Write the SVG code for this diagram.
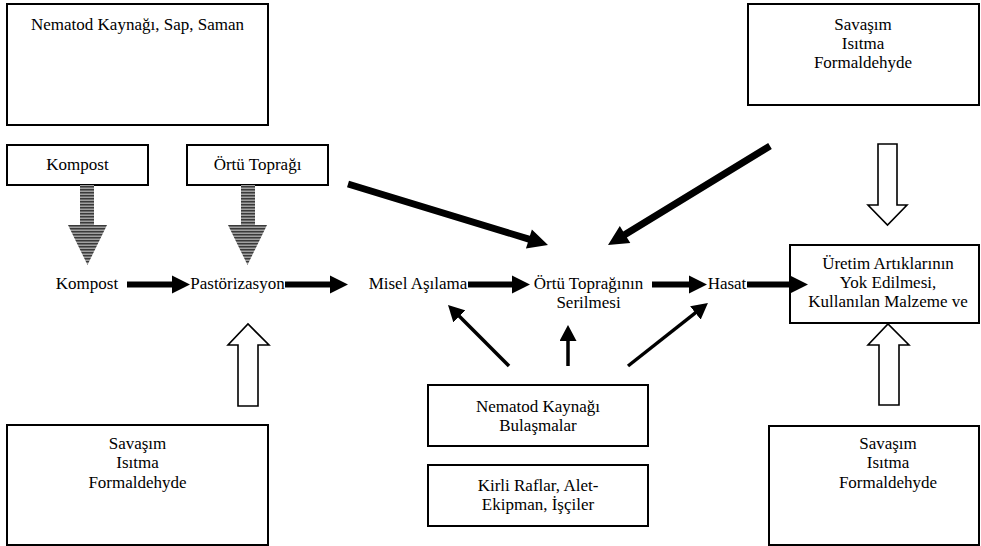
<svg xmlns="http://www.w3.org/2000/svg" width="981" height="546" viewBox="0 0 981 546">
<style>
text{font-family:"Liberation Serif","Times New Roman",serif;font-size:17px;fill:#000;text-anchor:middle}
.box{fill:#fff;stroke:#000;stroke-width:2}
.hollow{fill:#fff;stroke:#000;stroke-width:1.6;stroke-linejoin:miter}
.block{fill:#000}
.thin{stroke:#000;stroke-width:3.5;fill:none}
.striped{fill:url(#stripes)}
</style>
<defs>
<pattern id="stripes" patternUnits="userSpaceOnUse" width="4" height="3">
<rect x="0" y="0" width="4" height="3" fill="#a0a0a0"/>
<rect x="0" y="0" width="4" height="1.5" fill="#3a3a3a"/>
</pattern>
<marker id="head" markerUnits="userSpaceOnUse" markerWidth="16" markerHeight="17" refX="6" refY="8.5" orient="auto">
<path d="M0,0 L16,8.5 L0,17 z" fill="#000"/>
</marker>
</defs>
<rect width="981" height="546" fill="#fff"/>

<g id="n-nematod-sap-saman">
<rect class="box" x="7" y="4" width="261" height="121"/>
<text x="137.5" y="30">Nematod Kaynağı, Sap, Saman</text>
</g>
<g id="n-kompost-kaynak">
<rect class="box" x="7" y="145" width="141" height="40"/>
<text x="77.5" y="170">Kompost</text>
</g>
<g id="n-ortu-topragi-kaynak">
<rect class="box" x="187" y="145" width="141" height="40"/>
<text x="257.5" y="170">Örtü Toprağı</text>
</g>
<g id="n-savasim-top">
<rect class="box" x="748" y="4" width="231" height="101"/>
<text x="863" y="30">Savaşım</text>
<text x="863" y="49">Isıtma</text>
<text x="863" y="68">Formaldehyde</text>
</g>
<g id="n-kompost">
<text x="87" y="289">Kompost</text>
</g>
<g id="n-pastorizasyon">
<text x="237.5" y="289">Pastörizasyon</text>
</g>
<g id="n-misel">
<text x="418" y="289">Misel Aşılama</text>
</g>
<g id="n-ortu-serilmesi">
<text x="588.5" y="289">Örtü Toprağının</text>
<text x="588.5" y="308">Serilmesi</text>
</g>
<g id="n-hasat">
<text x="727" y="289">Hasat</text>
</g>
<g id="n-uretim">
<rect class="box" x="790" y="245" width="189" height="78"/>
<text x="888" y="269">Üretim Artıklarının</text>
<text x="888" y="288">Yok Edilmesi,</text>
<text x="888" y="307">Kullanılan Malzeme ve</text>
</g>
<g id="n-nematod-bulasma">
<rect class="box" x="428" y="385" width="220" height="61"/>
<text x="538" y="412">Nematod Kaynağı</text>
<text x="538" y="431">Bulaşmalar</text>
</g>
<g id="n-kirli-raflar">
<rect class="box" x="428" y="465" width="220" height="61"/>
<text x="538" y="491">Kirli Raflar, Alet-</text>
<text x="538" y="510">Ekipman, İşçiler</text>
</g>
<g id="n-savasim-bottom-left">
<rect class="box" x="7" y="425" width="261" height="120"/>
<text x="137.5" y="449">Savaşım</text>
<text x="137.5" y="468">Isıtma</text>
<text x="137.5" y="488">Formaldehyde</text>
</g>
<g id="n-savasim-bottom-right">
<rect class="box" x="769" y="426" width="210" height="119"/>
<text x="888" y="449">Savaşım</text>
<text x="888" y="468">Isıtma</text>
<text x="888" y="488">Formaldehyde</text>
</g>

<g id="connectors">
<!-- striped down arrows -->
<polygon class="striped" points="80,185 94,185 94,225 107,225 87.5,265 68,225 80,225"/>
<polygon class="striped" points="241,185 255,185 255,225 267,225 247.5,265 228,225 241,225"/>
<!-- flow block arrows -->
<polygon class="block" points="127,281.5 172,281.5 172,275.5 190,284.5 172,293.5 172,287.5 127,287.5"/>
<polygon class="block" points="285,281.5 330,281.5 330,275.5 348,284.5 330,293.5 330,287.5 285,287.5"/>
<polygon class="block" points="468,281.5 512,281.5 512,275.5 530,284.5 512,293.5 512,287.5 468,287.5"/>
<polygon class="block" points="652,281.5 689,281.5 689,275.5 707,284.5 689,293.5 689,287.5 652,287.5"/>
<polygon class="block" points="747,281.5 790,281.5 790,275.5 808,284.5 790,293.5 790,287.5 747,287.5"/>
<!-- thick diagonal arrows -->
<polygon class="block" points="349.0,180.7 529.9,235.8 531.9,229.5 548,245 525.9,248.6 527.9,242.4 347.0,187.3"/>
<polygon class="block" points="768.2,143.0 623.2,231.5 619.8,226.0 608,245 630.3,243.0 626.9,237.5 771.8,149.0"/>
<!-- hollow arrows -->
<polygon class="hollow" points="878,144 897,144 897,205 907,205 887.5,225 868,205 878,205"/>
<polygon class="hollow" points="238,406 258,406 258,345 269,345 248,324 228,345 238,345"/>
<polygon class="hollow" points="879,405 899,405 899,345 909,345 888,324 868,345 879,345"/>
<!-- thin arrows from Nematod Kaynağı -->
<line class="thin" x1="509" y1="366" x2="455.1" y2="312.1" marker-end="url(#head)"/>
<line class="thin" x1="568" y1="366" x2="568" y2="335" marker-end="url(#head)"/>
<line class="thin" x1="628" y1="366" x2="700.1" y2="309.2" marker-end="url(#head)"/>
</g>
</svg>
